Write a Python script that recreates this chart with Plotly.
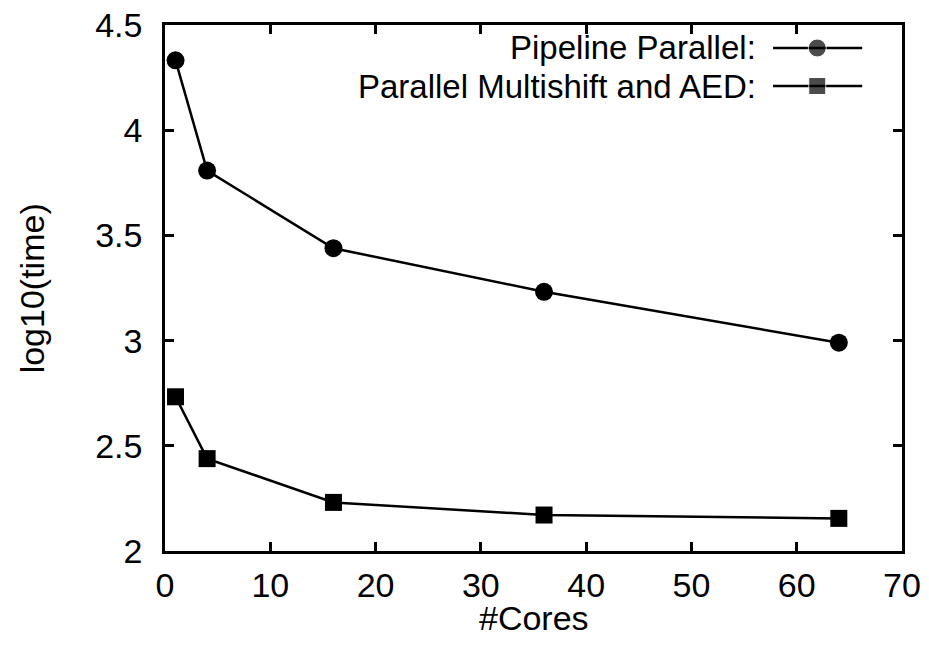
import plotly.graph_objects as go

# Measured run times (log10 seconds) against number of cores
cores = [1, 4, 16, 36, 64]
pipeline_parallel = [4.332, 3.808, 3.439, 3.232, 2.990]
multishift_aed = [2.733, 2.439, 2.231, 2.171, 2.155]

series_names = ["Pipeline Parallel:", "Parallel Multishift and AED:"]
x_ticks = [0, 10, 20, 30, 40, 50, 60, 70]
y_ticks = [2, 2.5, 3, 3.5, 4, 4.5]
y_tick_text = ["2", "2.5", "3", "3.5", "4", "4.5"]
x_title = "#Cores"
y_title = "log10(time)"

FONT = "Liberation Sans, Arial, Helvetica, sans-serif"
FS = 34
KEY_FS = 33
BLACK = "#000000"

fig = go.Figure()

fig.add_trace(go.Scatter(
    x=cores, y=pipeline_parallel, mode="lines+markers",
    line=dict(color=BLACK, width=2.5),
    marker=dict(symbol="circle", size=18, color=BLACK),
    showlegend=False,
))
fig.add_trace(go.Scatter(
    x=cores, y=multishift_aed, mode="lines+markers",
    line=dict(color=BLACK, width=2.5),
    marker=dict(symbol="square", size=17, color=BLACK),
    showlegend=False,
))

# Key: text right-aligned, followed by a line sample with the marker in its middle
key_x0, key_xm, key_x1 = 0.825, 0.885, 0.946
key_rows = [0.9563, 0.8840]
key_symbols = [("circle", 18), ("square", 17)]
for name, yrow, (sym, sz) in zip(series_names, key_rows, key_symbols):
    fig.add_trace(go.Scatter(
        x=[key_x0, key_xm, key_x1], y=[yrow, yrow, yrow],
        xaxis="x2", yaxis="y2", mode="lines+markers",
        line=dict(color=BLACK, width=2.5),
        marker=dict(symbol=sym, size=[0, sz, 0], color=BLACK),
        showlegend=False, hoverinfo="skip",
    ))
    fig.add_annotation(
        x=0.803, y=yrow, xref="paper", yref="paper",
        text=name, showarrow=False, xanchor="right", yanchor="middle",
        borderpad=0,
        font=dict(family=FONT, size=KEY_FS, color=BLACK),
    )

# Axis titles
fig.add_annotation(
    x=0.5, y=-0.127, xref="paper", yref="paper", text=x_title,
    showarrow=False, xanchor="center", yanchor="middle",
    font=dict(family=FONT, size=FS, color=BLACK),
)
fig.add_annotation(
    x=-0.18, y=0.5, xref="paper", yref="paper", text=y_title,
    showarrow=False, xanchor="center", yanchor="middle", textangle=-90,
    font=dict(family=FONT, size=FS, color=BLACK),
)

axis_common = dict(
    showgrid=False, zeroline=False, automargin=False,
    showline=True, linecolor=BLACK, linewidth=2.5, mirror="allticks",
    ticks="inside", ticklen=9, tickwidth=2.5, tickcolor=BLACK,
    tickfont=dict(family=FONT, size=FS, color=BLACK),
)

fig.update_layout(
    width=929, height=650,
    margin=dict(l=165, r=27, t=25, b=99, autoexpand=False),
    paper_bgcolor="white", plot_bgcolor="white",
    font=dict(family=FONT, size=FS, color=BLACK),
    xaxis=dict(range=[0, 70], tickvals=x_ticks, ticklabelstandoff=2, **axis_common),
    yaxis=dict(range=[2, 4.5], tickvals=y_ticks, ticktext=y_tick_text,
               ticklabelstandoff=13, **axis_common),
    xaxis2=dict(overlaying="x", range=[0, 1], visible=False, fixedrange=True),
    yaxis2=dict(overlaying="y", range=[0, 1], visible=False, fixedrange=True),
    showlegend=False,
)

fig.write_html("out.html")
